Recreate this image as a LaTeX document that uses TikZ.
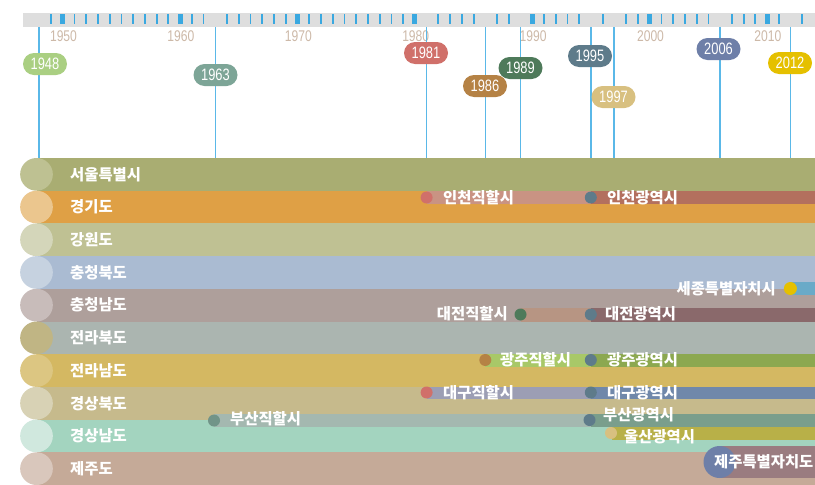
\documentclass[tikz,border=0pt]{standalone}
\usepackage{fontspec}
\newfontfamily\kr{Noto Sans CJK KR}
\newfontfamily\cond{Liberation Sans}[FakeStretch=0.78]
% band / circle colours
\definecolor{bA}{HTML}{A9AD72}\definecolor{cA}{HTML}{BEC192}
\definecolor{bB}{HTML}{DFA045}\definecolor{cB}{HTML}{EBC68E}
\definecolor{bC}{HTML}{BFC193}\definecolor{cC}{HTML}{D4D6BA}
\definecolor{bD}{HTML}{AABBD2}\definecolor{cD}{HTML}{C6D2E0}
\definecolor{bE}{HTML}{AE9F9B}\definecolor{cE}{HTML}{C8BCBA}
\definecolor{bF}{HTML}{ABB5B0}\definecolor{cF}{HTML}{C0B584}
\definecolor{bG}{HTML}{D4B862}\definecolor{cG}{HTML}{DCC682}
\definecolor{bH}{HTML}{C6BA8C}\definecolor{cH}{HTML}{D8D2B5}
\definecolor{bI}{HTML}{A3D4BF}\definecolor{cI}{HTML}{D0E8DE}
\definecolor{bJ}{HTML}{C5AA98}\definecolor{cJ}{HTML}{D9C7BC}
% year colours
\definecolor{y1948}{HTML}{AACF82}
\definecolor{y1963}{HTML}{7DA597}
\definecolor{y1981}{HTML}{D0706A}
\definecolor{y1986}{HTML}{B58245}
\definecolor{y1989}{HTML}{4E7A5A}
\definecolor{y1995}{HTML}{5E7B8A}
\definecolor{y1997}{HTML}{D8C080}
\definecolor{y2006}{HTML}{6E7FA8}
\definecolor{y2012}{HTML}{E5C000}
% strips
\definecolor{sIc}{HTML}{C99383}\definecolor{sIg}{HTML}{B3705E}
\definecolor{sSj}{HTML}{6AAAC8}
\definecolor{sDc}{HTML}{B79583}\definecolor{sDg}{HTML}{8A696B}
\definecolor{sGc}{HTML}{A8C868}\definecolor{sGg}{HTML}{8CA850}
\definecolor{sTc}{HTML}{9C9EB4}\definecolor{sTg}{HTML}{7088AA}
\definecolor{sBc}{HTML}{A4B8B0}\definecolor{sBg}{HTML}{7A9E8C}
\definecolor{sUg}{HTML}{B8B048}
\definecolor{sJj}{HTML}{9A7C80}
\definecolor{barc}{HTML}{DEDEDE}
\definecolor{tickc}{HTML}{3AA8E0}
\definecolor{linec}{HTML}{5AB8E8}
\definecolor{yearc}{HTML}{CDB9A8}
\begin{document}
\begin{tikzpicture}[x=1pt,y=-1pt,
  badge/.style={rounded corners=11pt, minimum width=44pt, minimum height=22pt, inner sep=0pt, text=white, font=\cond\fontsize{16.5}{16.5}\selectfont},
  yearlab/.style={text=yearc, inner sep=0pt, font=\cond\fontsize{15.5}{15.5}\selectfont},
  lab/.style={text=white, inner sep=0pt, font=\kr\bfseries\fontsize{15.4}{15.4}\selectfont},
  dotn/.style={circle, minimum size=12pt, inner sep=0pt},
  evline/.style={draw=linec, line width=1.5pt}]
\useasboundingbox (0,0) rectangle (815,485);
\fill[white] (0,0) rectangle (815,485);
% timeline bar
\fill[barc] (23,13) rectangle (815,27);
\foreach \yr in {1949,1951,1952,1953,1954,1955,1956,1957,1958,1959,1961,1962,1964,1965,1966,1967,1968,1969,1971,1972,1973,1974,1975,1976,1977,1978,1979,1982,1983,1984,1985,1987,1988,1991,1992,1993,1994,1996,1998,1999,2001,2002,2003,2004,2005,2007,2008,2009,2011,2013}
  \fill[tickc] ({62.7+(\yr-1950)*11.74-0.9},14) rectangle +(1.8,9.5);
\foreach \yr in {1950,1960,1970,1980,1990,2000,2010}{
  \fill[tickc] ({62.7+(\yr-1950)*11.74-2.5},14) rectangle +(5,9.5);
  \node[yearlab] (ax\yr) at ({63.5+(\yr-1950)*11.74},36) {\yr};
}
% event lines
\foreach \yr/\xx in {1948/39.2,1963/215.3,1981/426.6,1986/485.3,1989/520.5,1995/590.8,1997/614.2,2006/719.8,2012/790.4}{
  \coordinate (t\yr) at (\xx,27);
  \coordinate (l\yr) at (\xx,158);
  \draw[evline] (t\yr) -- (l\yr);
}
% badges
\node[badge, fill=y1948] (b1948) at (45,64) {1948};
\node[badge, fill=y1963] (b1963) at (215.5,75) {1963};
\node[badge, fill=y1981] (b1981) at (426,53) {1981};
\node[badge, fill=y1986] (b1986) at (485,86) {1986};
\node[badge, fill=y1989] (b1989) at (520.5,68) {1989};
\node[badge, fill=y1995] (b1995) at (590,56) {1995};
\node[badge, fill=y1997] (b1997) at (613.5,97) {1997};
\node[badge, fill=y2006] (b2006) at (718.5,49) {2006};
\node[badge, fill=y2012] (b2012) at (790,63) {2012};
% bands
\foreach \i/\bc in {0/bA,1/bB,2/bC,3/bD,4/bE,5/bF,6/bG,7/bH,8/bI,9/bJ}
  \fill[\bc] (37,{158+\i*32.7}) rectangle (815,{158+(\i+1)*32.7});
% strips
\fill[sIc] (426.6,191) rectangle (590.8,204);
\fill[sIg] (590.8,191) rectangle (815,204);
\fill[sSj] (790.4,282) rectangle (815,295);
\fill[sDc] (520.5,308) rectangle (590.8,321.5);
\fill[sDg] (590.8,308) rectangle (815,321.5);
\fill[sGc] (485.3,354) rectangle (590.8,366.5);
\fill[sGg] (590.8,354) rectangle (815,366.5);
\fill[sTc] (426.6,386.5) rectangle (590.8,399);
\fill[sTg] (590.8,386.5) rectangle (815,399);
\fill[sBc] (214,414) rectangle (590.8,427);
\fill[sBg] (590.8,414) rectangle (815,427);
\fill[sUg] (612,427) rectangle (815,439.5);
\fill[sJj] (719.5,446) rectangle (815,478);
% left circles and band labels
\foreach \i/\cc/\t in {0/cA/서울특별시,1/cB/경기도,2/cC/강원도,3/cD/충청북도,4/cE/충청남도,5/cF/전라북도,6/cG/전라남도,7/cH/경상북도,8/cI/경상남도,9/cJ/제주도}{
  \node[circle, fill=\cc, minimum size=32.7pt, inner sep=0pt] (circ\i) at (36.5,{174.35+\i*32.7}) {};
  \node[lab, anchor=west] (name\i) at (70,{174.35+\i*32.7}) {\t};
}
% dots
\node[dotn, fill=y1981] (dIc) at (426.6,197.5) {};
\node[dotn, fill=y1995] (dIg) at (590.8,197.5) {};
\node[dotn, fill=y2012, minimum size=13pt] (dSj) at (790.4,288.5) {};
\node[dotn, fill=y1989] (dDc) at (520.5,314.5) {};
\node[dotn, fill=y1995] (dDg) at (590.8,314.5) {};
\node[dotn, fill=y1986] (dGc) at (485.3,360) {};
\node[dotn, fill=y1995] (dGg) at (590.8,360) {};
\node[dotn, fill=y1981] (dTc) at (426.6,392.5) {};
\node[dotn, fill=y1995] (dTg) at (590.8,392.5) {};
\node[dotn, fill=y1963!90!black] (dBc) at (214,420.5) {};
\node[dotn, fill=y1995] (dBg) at (589.5,420) {};
\node[dotn, fill=y1997] (dUg) at (611,433) {};
\node[circle, fill=y2006, minimum size=32pt, inner sep=0pt] (dJj) at (719.5,462) {};
% strip labels
\node[lab, anchor=west] (tIc) at (443,197.5) {인천직할시};
\node[lab, anchor=west] (tIg) at (607,197.5) {인천광역시};
\node[lab, anchor=east] (tSj) at (776,288.5) {세종특별자치시};
\node[lab, anchor=east] (tDc) at (508,314) {대전직할시};
\node[lab, anchor=west] (tDg) at (605,314) {대전광역시};
\node[lab, anchor=west] (tGc) at (500,360) {광주직할시};
\node[lab, anchor=west] (tGg) at (607,360) {광주광역시};
\node[lab, anchor=west] (tTc) at (443,392.5) {대구직할시};
\node[lab, anchor=west] (tTg) at (607,392.5) {대구광역시};
\node[lab, anchor=west] (tBc) at (230,418.5) {부산직할시};
\node[lab, anchor=west] (tBg) at (603,414.5) {부산광역시};
\node[lab, anchor=west] (tUg) at (624,436.5) {울산광역시};
\node[lab, anchor=west] (tJj) at (714,462) {제주특별자치도};
\end{tikzpicture}
\end{document}
